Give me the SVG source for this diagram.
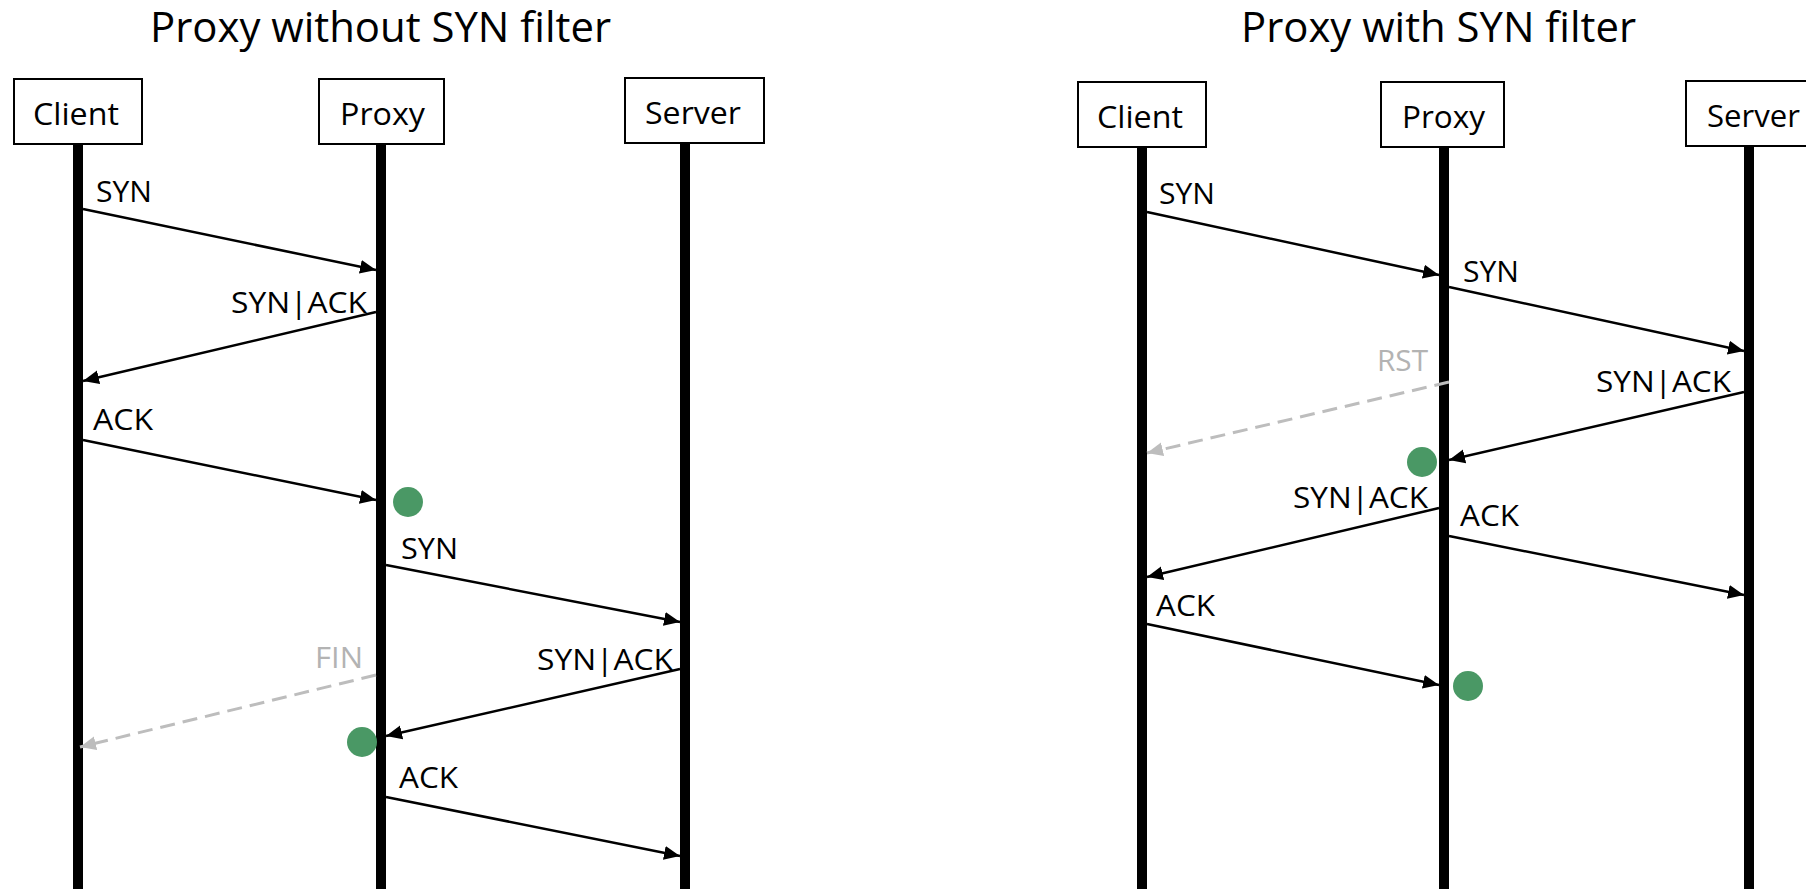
<svg xmlns="http://www.w3.org/2000/svg" width="1806" height="889" viewBox="0 0 1806 889">
<defs>
<style>
text{font-family:"Open Sans","Noto Sans","Liberation Sans",sans-serif;fill:#000}
.title{font-size:42px}
.nl{font-size:31px}
.lbl{font-size:30px}
.gray{fill:#b3b3b3}
.box{fill:#fff;stroke:#000;stroke-width:2}
.life{stroke:#000;stroke-width:10}
.msg{stroke:#000;stroke-width:2.5;fill:none;marker-end:url(#ah)}
.dash{stroke:#bdbdbd;stroke-width:3;fill:none;stroke-dasharray:15 8;marker-end:url(#ahg)}
.dot{fill:#4a9865}
</style>
<marker id="ah" markerUnits="userSpaceOnUse" markerWidth="18" markerHeight="16" viewBox="0 0 18 16" refX="16" refY="8" orient="auto"><path d="M0,1 L16,8 L0,15 Z" fill="#000"/></marker>
<marker id="ahg" markerUnits="userSpaceOnUse" markerWidth="18" markerHeight="16" viewBox="0 0 18 16" refX="16" refY="8" orient="auto"><path d="M0,1 L16,8 L0,15 Z" fill="#bdbdbd"/></marker>
</defs>
<rect width="1806" height="889" fill="#fff"/>
<text class="title" x="150" y="42" textLength="461" lengthAdjust="spacingAndGlyphs">Proxy without SYN filter</text>
<text class="title" x="1241" y="42" textLength="395" lengthAdjust="spacingAndGlyphs">Proxy with SYN filter</text>
<g id="lifelines">
<line class="life" x1="78" y1="144" x2="78" y2="889"/>
<line class="life" x1="381" y1="144" x2="381" y2="889"/>
<line class="life" x1="685" y1="143" x2="685" y2="889"/>
<line class="life" x1="1142" y1="147" x2="1142" y2="889"/>
<line class="life" x1="1444" y1="147" x2="1444" y2="889"/>
<line class="life" x1="1749" y1="146" x2="1749" y2="889"/>
</g>
<g id="L-client"><rect class="box" x="14" y="79" width="128" height="65"/><text class="nl" x="33" y="125" textLength="86" lengthAdjust="spacingAndGlyphs">Client</text></g>
<g id="L-proxy"><rect class="box" x="319" y="79" width="125" height="65"/><text class="nl" x="340" y="125" textLength="85" lengthAdjust="spacingAndGlyphs">Proxy</text></g>
<g id="L-server"><rect class="box" x="625" y="78" width="139" height="65"/><text class="nl" x="645" y="124" textLength="96" lengthAdjust="spacingAndGlyphs">Server</text></g>
<g id="R-client"><rect class="box" x="1078" y="82" width="128" height="65"/><text class="nl" x="1097" y="128" textLength="86" lengthAdjust="spacingAndGlyphs">Client</text></g>
<g id="R-proxy"><rect class="box" x="1381" y="82" width="123" height="65"/><text class="nl" x="1402" y="128" textLength="83" lengthAdjust="spacingAndGlyphs">Proxy</text></g>
<g id="R-server"><rect class="box" x="1686" y="81" width="128" height="65"/><text class="nl" x="1707" y="127" textLength="93" lengthAdjust="spacingAndGlyphs">Server</text></g>
<g id="connectors">
<line class="msg" x1="83" y1="209" x2="376" y2="270"/>
<line class="msg" x1="376" y1="312" x2="83" y2="381"/>
<line class="msg" x1="83" y1="440" x2="376" y2="500"/>
<line class="msg" x1="386" y1="565" x2="680" y2="622"/>
<line class="dash" x1="376" y1="675" x2="80" y2="747"/>
<line class="msg" x1="680" y1="669" x2="386" y2="736"/>
<line class="msg" x1="386" y1="797" x2="680" y2="856"/>
<line class="msg" x1="1147" y1="212" x2="1439" y2="275"/>
<line class="msg" x1="1449" y1="287" x2="1744" y2="351"/>
<line class="dash" x1="1449" y1="382" x2="1147" y2="453"/>
<line class="msg" x1="1744" y1="392" x2="1449" y2="460"/>
<line class="msg" x1="1439" y1="508" x2="1147" y2="577"/>
<line class="msg" x1="1449" y1="536" x2="1744" y2="595"/>
<line class="msg" x1="1147" y1="624" x2="1439" y2="685"/>
</g>
<g id="labels">
<text class="lbl" x="96" y="202" textLength="56" lengthAdjust="spacingAndGlyphs">SYN</text>
<text class="lbl" x="231" y="313" textLength="136" lengthAdjust="spacingAndGlyphs">SYN|ACK</text>
<text class="lbl" x="93" y="430" textLength="60" lengthAdjust="spacingAndGlyphs">ACK</text>
<text class="lbl" x="401" y="559" textLength="57" lengthAdjust="spacingAndGlyphs">SYN</text>
<text class="lbl gray" x="315" y="668" textLength="48" lengthAdjust="spacingAndGlyphs">FIN</text>
<text class="lbl" x="537" y="670" textLength="136" lengthAdjust="spacingAndGlyphs">SYN|ACK</text>
<text class="lbl" x="399" y="788" textLength="59" lengthAdjust="spacingAndGlyphs">ACK</text>
<text class="lbl" x="1159" y="204" textLength="56" lengthAdjust="spacingAndGlyphs">SYN</text>
<text class="lbl" x="1463" y="282" textLength="56" lengthAdjust="spacingAndGlyphs">SYN</text>
<text class="lbl gray" x="1377" y="371" textLength="51" lengthAdjust="spacingAndGlyphs">RST</text>
<text class="lbl" x="1596" y="392" textLength="135" lengthAdjust="spacingAndGlyphs">SYN|ACK</text>
<text class="lbl" x="1293" y="508" textLength="135" lengthAdjust="spacingAndGlyphs">SYN|ACK</text>
<text class="lbl" x="1460" y="526" textLength="59" lengthAdjust="spacingAndGlyphs">ACK</text>
<text class="lbl" x="1156" y="616" textLength="59" lengthAdjust="spacingAndGlyphs">ACK</text>
</g>
<g id="markers">
<circle class="dot" cx="408" cy="502" r="15"/>
<circle class="dot" cx="362" cy="742" r="15"/>
<circle class="dot" cx="1422" cy="462" r="15"/>
<circle class="dot" cx="1468" cy="686" r="15"/>
</g>
</svg>
